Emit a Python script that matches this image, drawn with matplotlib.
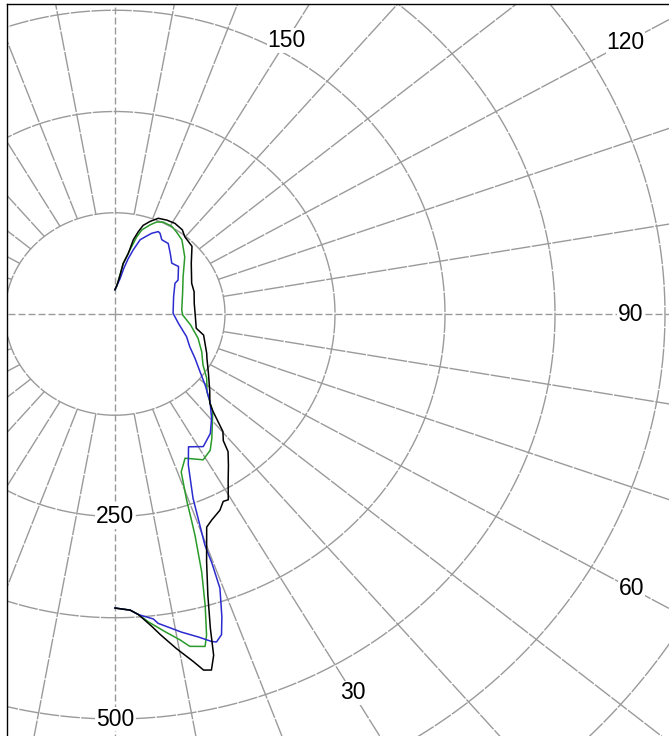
import numpy as np
import matplotlib
matplotlib.use("Agg")
from matplotlib import pyplot as plt
from matplotlib.patches import Rectangle
from matplotlib.lines import Line2D

# intensity curves (angle in degrees from nadir, value)
black_deg = [0, 2.7, 4.1, 6.2, 7.4, 9.6, 11.7, 12.9, 14.0, 14.9, 15.6, 16.9, 18.8, 21.6, 23.4, 26.2,
             28.0, 29.3, 32.1, 34.6, 37.1, 38.2, 40.2, 41.4, 42.8, 44.4, 48.4, 55.4, 62.3, 65.0, 75.5,
             79.2, 90.6, 98.3, 107.0, 113.5, 125.9, 133.7, 140.2, 143.6, 148.7, 153.1, 157.4, 160.8,
             163.7, 165.4, 167.2, 168.6, 171.5, 173.2, 175.5, 180]
black_val = [363, 366, 372, 388, 399, 419, 438, 451, 453, 436, 403, 363, 323, 283, 277, 270,
             262, 263, 242, 227, 213, 199, 190, 177, 164, 154, 144, 129, 118, 115, 104,
             94, 91, 91, 94, 95, 107, 121, 124, 129, 131, 130, 128, 121,
             114, 105, 94, 76, 63, 48, 38, 30]

green_deg = [0, 2.7, 4.1, 5.7, 8.2, 10.4, 11.7, 14.0, 14.7, 15.9, 17.2, 18.4, 18.8, 19.5, 21.1,
             24.1, 29.1, 32.75, 35.6, 42.6, 47.4, 52.7, 57.9, 64.7, 72.4, 81.0, 89.0, 93.7, 108.5,
             120.7, 131.6, 140.3, 145.4, 149.1, 154.3, 157.4, 160.1, 163.7, 165.5, 167.9, 171.5,
             176.8, 180]
green_val = [363, 366, 372, 382, 396, 409, 419, 423, 410, 374, 333, 288, 271, 244, 209,
             195, 206, 200, 189, 164, 142, 131, 118, 109, 99, 87, 77, 76, 81,
             90, 106, 119, 123, 126, 126, 123, 117, 108, 98, 81, 63,
             34, 30]

blue_deg = [0, 2.7, 4.1, 6.6, 7.3, 10.9, 13.4, 15.2, 15.9, 17.0, 18.0, 19.4, 19.7, 19.7, 21.3,
            24.1, 27.0, 31.5, 36.3, 40.5, 44.9, 49.4, 53.6, 59.0, 64.6, 71.0, 80.9, 90.8, 107.9,
            119.1, 120.3, 129.1, 134.2, 140.2, 145.2, 149.9, 152.8, 154.2, 157.3, 160.3, 162.7,
            165.3, 167.6, 170.0, 172.5, 180]
blue_val = [363, 366, 372, 379, 385, 400, 410, 419, 421, 414, 393, 359, 327, 303, 244,
            204, 184, 192, 183, 169, 153, 135, 120, 106, 94, 86, 73, 66, 70,
            78, 83, 93, 90, 98, 106, 106, 112, 113, 108, 101, 96,
            82, 70, 57, 44, 30]

ring_values = [125, 250, 375, 500, 625, 750, 875]
ring_labels = [250, 500]
angle_labels = [30, 60, 90, 120, 150]
angle_label_r = [540, 678, 586, 670, 390]

W, H = 669, 736
RMAX = 900
SX, SY = 0.88, 0.81  # px per unit, horizontal / vertical
CX, CY = 115, 314     # pole position in px (from top-left)

fig = plt.figure(figsize=(W / 100, H / 100), dpi=100)
aw, ah = 2 * RMAX * SX, 2 * RMAX * SY
ax = fig.add_axes([(CX - aw / 2) / W, (H - CY - ah / 2) / H, aw / W, ah / H], projection='polar')
ax.set_aspect('auto')
ax.set_theta_zero_location('S')
ax.set_theta_direction(1)
ax.set_rlim(0, RMAX)
ax.grid(False)
ax.set_xticks([])
ax.set_yticks([])
ax.spines['polar'].set_visible(False)

grid_col = '#9a9a9a'
t = np.linspace(0, 2 * np.pi, 1441)
for rv in ring_values:
    ax.plot(t, np.full_like(t, rv), color=grid_col, lw=1.0, ls=(0, (14, 1)), zorder=1)
for a in range(10, 360, 10):
    if a % 90 == 0:
        continue
    ax.plot([np.deg2rad(a)] * 2, [125, RMAX], color=grid_col, lw=1.0, ls=(0, (14, 1)), zorder=1)
for a in [0, 90, 180, 270]:
    ax.plot([np.deg2rad(a)] * 2, [0, RMAX], color=grid_col, lw=1.0, ls=(0, (5, 2.2)), zorder=1)

ax.plot(np.deg2rad(black_deg), black_val, color='black', lw=1.1, zorder=4)
ax.plot(np.deg2rad(green_deg), green_val, color='#2a9a2a', lw=1.1, zorder=3)
ax.plot(np.deg2rad(blue_deg), blue_val, color='#2b2bd0', lw=1.1, zorder=3)

lab_font = dict(fontsize=16.5, family='Liberation Sans', ha='center', va='center', zorder=5,
                bbox=dict(facecolor='white', edgecolor='none', pad=0.5))
for v in ring_labels:
    ax.text(0, v, str(v), **lab_font)
for a, rr in zip(angle_labels, angle_label_r):
    ax.text(np.deg2rad(a), rr, str(a), **lab_font)

# mask outside the frame and draw the frame (left and top edges)
fx, fy = 7 / W, (H - 4) / H
fig.add_artist(Rectangle((0, 0), fx, 1, transform=fig.transFigure, facecolor='white',
                         edgecolor='none', zorder=10))
fig.add_artist(Rectangle((0, fy), 1, 1 - fy, transform=fig.transFigure, facecolor='white',
                         edgecolor='none', zorder=10))
fig.add_artist(Line2D([fx, fx], [0, fy], transform=fig.transFigure, color='black', lw=1.0, zorder=11))
fig.add_artist(Line2D([fx, 1], [fy, fy], transform=fig.transFigure, color='black', lw=1.0, zorder=11))

fig.savefig('out.png', dpi=100)
